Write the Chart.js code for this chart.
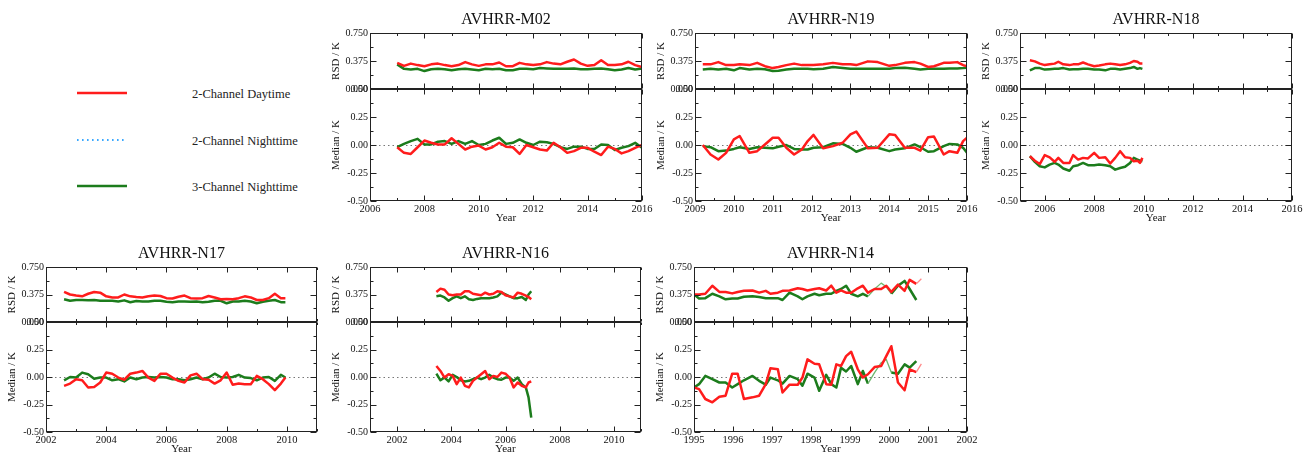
<!DOCTYPE html>
<html>
<head>
<meta charset="utf-8">
<script src="https://cdn.jsdelivr.net/npm/chart.js@4.4.1/dist/chart.umd.min.js"></script>
<style>
  html, body { margin: 0; padding: 0; background: #fff; }
  body { width: 1310px; height: 455px; position: relative; overflow: hidden; font-family: 'Liberation Serif', serif; }
  canvas { position: absolute; }
  .lg { position: absolute; font-size: 12.5px; color: #222; line-height: 1; transform: translateY(-50%); white-space: nowrap; }
</style>
</head>
<body>
<svg id="lgLines" width="330" height="230" style="position:absolute;left:0;top:0"></svg>
<script>
// series (the 2-channel nighttime one only shows in the legend)
const seriesNames  = ['2-Channel Daytime', '2-Channel Nighttime', '3-Channel Nighttime'];
const seriesColors = ['#ff1c1c', '#3aa8ff', '#1c7c1c'];

// tick labels
const rsdTicks = [0, 0.375, 0.75];
const medTicks = [-0.5, -0.25, 0, 0.25, 0.5];

// AVHRR-M02
const m02XTicks = [2006, 2008, 2010, 2012, 2014, 2016];
const m02Years = [2007, 2007.25, 2007.5, 2007.75, 2008, 2008.25, 2008.5, 2008.75, 2009, 2009.25, 2009.5, 2009.75,
  2010, 2010.25, 2010.5, 2010.75, 2011, 2011.25, 2011.5, 2011.75, 2012, 2012.25, 2012.5, 2012.75,
  2013, 2013.25, 2013.5, 2013.75, 2014, 2014.25, 2014.5, 2014.75, 2015, 2015.25, 2015.5, 2015.75, 2016];
const m02RsdDay = [0.35, 0.31, 0.34, 0.32, 0.305, 0.33, 0.34, 0.32, 0.305, 0.32, 0.36, 0.33, 0.31, 0.33, 0.33, 0.355,
  0.305, 0.305, 0.35, 0.33, 0.32, 0.33, 0.36, 0.34, 0.33, 0.365, 0.395, 0.34, 0.31, 0.32, 0.385, 0.32,
  0.32, 0.33, 0.365, 0.32, 0.295];
const m02RsdNight3 = [0.33, 0.27, 0.26, 0.27, 0.24, 0.265, 0.27, 0.265, 0.25, 0.265, 0.27, 0.26, 0.25, 0.27, 0.265, 0.27,
  0.25, 0.25, 0.27, 0.27, 0.265, 0.28, 0.275, 0.27, 0.27, 0.27, 0.275, 0.265, 0.265, 0.27, 0.275, 0.265,
  0.25, 0.26, 0.28, 0.26, 0.275];
const m02MedDay = [-0.02, -0.07, -0.08, -0.02, 0.04, 0.02, 0.005, 0.005, 0.06, 0.01, -0.04, -0.015, -0.005, -0.04, -0.02, 0.02,
  -0.015, -0.02, -0.08, 0, -0.02, -0.04, -0.05, 0.02, -0.02, -0.07, -0.055, -0.025, -0.025, -0.06, -0.09, -0.015,
  -0.035, -0.075, -0.055, -0.025, 0];
const m02MedNight3 = [-0.02, 0.01, 0.035, 0.055, 0.005, 0.005, 0.03, 0.035, 0.01, 0.035, 0.01, 0.035, 0, 0.01, 0.04, 0.065,
  0.01, 0.02, 0.05, 0.02, 0, 0.03, 0.025, 0.01, -0.02, -0.035, -0.015, -0.015, -0.035, -0.035, 0.005, 0,
  -0.045, -0.025, -0.01, 0.02, -0.025];

// AVHRR-N19
const n19XTicks = [2009, 2010, 2011, 2012, 2013, 2014, 2015, 2016];
const n19Years = [2009.2, 2009.4, 2009.6, 2009.8, 2010, 2010.15, 2010.4, 2010.6, 2010.8, 2011, 2011.15, 2011.35,
  2011.55, 2011.75, 2011.9, 2012.05, 2012.3, 2012.55, 2012.8, 2013, 2013.15, 2013.45, 2013.7, 2014,
  2014.15, 2014.4, 2014.65, 2014.8, 2015, 2015.15, 2015.4, 2015.55, 2015.75, 2015.9, 2016];
const n19RsdDay = [0.33, 0.33, 0.36, 0.32, 0.32, 0.33, 0.32, 0.35, 0.305, 0.28, 0.295, 0.32, 0.34, 0.32, 0.32, 0.32,
  0.33, 0.35, 0.33, 0.33, 0.32, 0.37, 0.36, 0.31, 0.32, 0.35, 0.36, 0.34, 0.295, 0.305, 0.35, 0.35, 0.36, 0.32, 0.305];
const n19RsdNight3 = [0.26, 0.27, 0.26, 0.27, 0.25, 0.28, 0.26, 0.27, 0.265, 0.24, 0.245, 0.26, 0.27, 0.27, 0.27, 0.265,
  0.27, 0.295, 0.28, 0.27, 0.27, 0.27, 0.27, 0.27, 0.28, 0.285, 0.27, 0.26, 0.27, 0.27, 0.27, 0.275, 0.275, 0.28, 0.285];
const n19MedDay = [0, -0.085, -0.13, -0.07, 0.05, 0.08, -0.07, -0.055, 0.005, 0.065, 0.065, -0.025, -0.085, -0.04, 0.035, 0.09,
  -0.03, -0.01, 0.02, 0.095, 0.12, -0.03, -0.025, 0.095, 0.09, -0.025, -0.025, -0.05, 0.07, 0.075, -0.085, -0.055, -0.07, 0.035, 0.065];
const n19MedNight3 = [-0.01, -0.02, -0.055, -0.05, -0.035, -0.02, -0.035, -0.02, -0.025, -0.03, -0.015, 0, -0.035, -0.04, -0.04, -0.025,
  -0.02, 0.015, 0.01, -0.025, -0.06, -0.02, -0.025, -0.055, -0.04, -0.03, 0.005, -0.02, -0.06, -0.055, -0.01, 0.01, 0.005, -0.025, -0.07];

// AVHRR-N18
const n18XTicks = [2006, 2008, 2010, 2012, 2014, 2016];
const n18Years = [2005.4, 2005.6, 2005.8, 2006, 2006.2, 2006.4, 2006.55, 2006.75, 2007, 2007.15, 2007.35, 2007.55, 2007.75,
  2008, 2008.2, 2008.45, 2008.65, 2008.85, 2009.05, 2009.25, 2009.45, 2009.6, 2009.75, 2009.85, 2009.95];
const n18RsdDay = [0.385, 0.37, 0.34, 0.32, 0.33, 0.34, 0.365, 0.33, 0.32, 0.33, 0.33, 0.355, 0.33,
  0.305, 0.315, 0.33, 0.34, 0.33, 0.32, 0.33, 0.35, 0.375, 0.365, 0.34, 0.34];
const n18RsdNight3 = [0.25, 0.28, 0.28, 0.26, 0.265, 0.27, 0.27, 0.28, 0.26, 0.265, 0.265, 0.27, 0.27,
  0.26, 0.26, 0.25, 0.27, 0.27, 0.26, 0.27, 0.28, 0.295, 0.27, 0.28, 0.27];
const n18MedDay = [-0.1, -0.14, -0.17, -0.09, -0.11, -0.15, -0.115, -0.16, -0.16, -0.09, -0.13, -0.115, -0.12,
  -0.07, -0.115, -0.11, -0.165, -0.115, -0.055, -0.11, -0.115, -0.145, -0.14, -0.16, -0.115];
const n18MedNight3 = [-0.1, -0.15, -0.19, -0.2, -0.175, -0.16, -0.175, -0.21, -0.23, -0.19, -0.18, -0.16, -0.18,
  -0.18, -0.175, -0.18, -0.19, -0.22, -0.205, -0.195, -0.16, -0.115, -0.13, -0.14, -0.145];

// AVHRR-N17
const n17XTicks = [2002, 2004, 2006, 2008, 2010];
const n17Years = [2002.6, 2002.8, 2003, 2003.2, 2003.4, 2003.6, 2003.8, 2004, 2004.2, 2004.4, 2004.6, 2004.8,
  2005, 2005.2, 2005.4, 2005.6, 2005.8, 2006, 2006.2, 2006.4, 2006.6, 2006.8, 2007, 2007.2, 2007.4, 2007.6, 2007.8,
  2008, 2008.2, 2008.4, 2008.6, 2008.8, 2009, 2009.2, 2009.4, 2009.6, 2009.8, 2009.95];
const n17RsdDay = [0.41, 0.375, 0.36, 0.35, 0.385, 0.41, 0.4, 0.35, 0.335, 0.335, 0.375, 0.35,
  0.34, 0.335, 0.35, 0.36, 0.355, 0.325, 0.32, 0.345, 0.36, 0.325, 0.32, 0.325, 0.355, 0.335, 0.31,
  0.315, 0.31, 0.325, 0.35, 0.335, 0.3, 0.3, 0.325, 0.385, 0.325, 0.325];
const n17RsdNight3 = [0.31, 0.29, 0.3, 0.3, 0.295, 0.3, 0.29, 0.29, 0.29, 0.28, 0.295, 0.27,
  0.285, 0.28, 0.28, 0.29, 0.29, 0.275, 0.27, 0.28, 0.28, 0.275, 0.28, 0.27, 0.275, 0.29, 0.29,
  0.255, 0.28, 0.28, 0.29, 0.28, 0.255, 0.275, 0.29, 0.3, 0.27, 0.27];
const n17MedDay = [-0.08, -0.06, -0.02, -0.03, -0.095, -0.09, -0.05, 0.04, 0.03, -0.005, -0.025, 0.03,
  0.04, 0.055, -0.005, -0.035, 0.03, 0.03, -0.005, -0.035, -0.05, 0.015, 0.03, -0.02, -0.025, -0.06, -0.03,
  0.04, -0.07, -0.06, -0.065, -0.065, 0.01, -0.02, -0.065, -0.12, -0.06, -0.005];
const n17MedNight3 = [-0.03, 0, -0.005, 0.04, 0.025, -0.015, -0.005, -0.005, -0.03, -0.02, -0.04, -0.005,
  -0.02, -0.005, 0, -0.005, 0, -0.005, -0.02, -0.02, -0.03, -0.02, -0.005, -0.02, -0.005, 0.03, 0,
  -0.005, 0, 0.02, -0.005, -0.01, -0.03, -0.005, 0, -0.035, 0.02, -0.005];

// AVHRR-N16
const n16XTicks = [2002, 2004, 2006, 2008, 2010];
const n16Years = [2003.45, 2003.6, 2003.75, 2003.9, 2004.05, 2004.2, 2004.35, 2004.5, 2004.65, 2004.8, 2004.95, 2005.1,
  2005.25, 2005.4, 2005.55, 2005.7, 2005.85, 2006, 2006.15, 2006.3, 2006.45, 2006.6, 2006.75, 2006.85, 2006.95];
const n16RsdDay = [0.41, 0.455, 0.44, 0.375, 0.365, 0.375, 0.375, 0.42, 0.42, 0.385, 0.375, 0.365,
  0.4, 0.375, 0.385, 0.42, 0.41, 0.365, 0.35, 0.335, 0.4, 0.385, 0.36, 0.34, 0.31];
const n16RsdNight3 = [0.35, 0.36, 0.335, 0.29, 0.325, 0.35, 0.325, 0.35, 0.31, 0.3, 0.315, 0.325,
  0.325, 0.325, 0.335, 0.35, 0.4, 0.375, 0.35, 0.325, 0.325, 0.34, 0.3, 0.375, 0.42];
const n16MedDay = [0.1, 0.055, -0.005, 0.025, 0.01, -0.065, -0.005, -0.08, -0.095, -0.035, -0.005, 0.025,
  0.055, -0.02, 0.01, 0, 0.04, 0.03, -0.005, -0.095, -0.05, -0.08, -0.095, -0.05, -0.04];
const n16MedNight3 = [0.03, -0.03, -0.005, -0.04, 0.02, 0, -0.03, -0.04, -0.035, -0.02, -0.005, -0.02,
  -0.005, 0.02, -0.005, -0.02, -0.025, -0.005, -0.005, -0.035, -0.005, -0.065, -0.095, -0.185, -0.37];

// AVHRR-N14
const n14XTicks = [1995, 1996, 1997, 1998, 1999, 2000, 2001, 2002];
const n14Years = [1995, 1995.13, 1995.29, 1995.47, 1995.65, 1995.81, 1995.98, 1996.12, 1996.28, 1996.5, 1996.67, 1996.84,
  1996.96, 1997.15, 1997.27, 1997.45, 1997.66, 1997.78, 1997.91, 1998.09, 1998.21, 1998.39, 1998.52, 1998.65,
  1998.77, 1998.9, 1999.03, 1999.2, 1999.33, 1999.46, 1999.63, 1999.8, 1999.93, 2000.06, 2000.23, 2000.4,
  2000.53, 2000.7, 2000.83];
const n14RsdDay = [0.375, 0.375, 0.385, 0.495, 0.41, 0.41, 0.39, 0.41, 0.425, 0.43, 0.4, 0.425,
  0.385, 0.4, 0.425, 0.43, 0.46, 0.45, 0.43, 0.45, 0.46, 0.43, 0.495, 0.4,
  0.43, 0.4, 0.4, 0.46, 0.495, 0.4, 0.45, 0.45, 0.495, 0.41, 0.51, 0.425,
  0.575, 0.52, 0.59];
const n14RsdNight3 = [0.375, 0.32, 0.325, 0.385, 0.35, 0.31, 0.32, 0.32, 0.345, 0.35, 0.34, 0.325,
  0.325, 0.325, 0.3, 0.4, 0.35, 0.31, 0.35, 0.385, 0.365, 0.385, 0.385, 0.425,
  0.45, 0.495, 0.385, 0.35, 0.385, 0.35, 0.45, 0.53, 0.48, 0.385, 0.495, 0.56,
  0.45, 0.3, null];
const n14MedDay = [-0.095, -0.11, -0.2, -0.23, -0.18, -0.17, 0.03, 0.03, -0.2, -0.185, -0.17, -0.065,
  0.08, 0.07, -0.14, -0.07, -0.07, -0.005, 0.16, 0.12, 0.115, -0.065, -0.07, 0.115,
  0.1, 0.19, 0.23, 0.07, -0.005, 0.025, 0.09, 0.1, 0.19, 0.28, -0.05, -0.12,
  0.07, 0.045, 0.12];
const n14MedNight3 = [-0.095, -0.065, 0.01, -0.02, -0.05, -0.05, -0.095, -0.065, -0.03, 0.01, -0.035, -0.07,
  -0.005, -0.03, -0.06, 0.01, -0.02, -0.08, 0.03, -0.005, -0.125, 0.02, -0.065, -0.095,
  0.085, 0.05, 0.1, -0.065, 0.055, -0.06, 0.04, 0.13, 0.16, 0.04, 0.03, 0.115,
  0.085, 0.145, null];

const fonte = "'Liberation Serif', 'DejaVu Serif', serif";
Chart.defaults.font.family = fonte;
Chart.defaults.color = '#111';

// legend on the left, plain svg + html text
const lgSvg = document.getElementById('lgLines');
const lgY = [93, 140, 186];
seriesNames.forEach(function (nome, i) {
  const ln = document.createElementNS('http://www.w3.org/2000/svg', 'line');
  ln.setAttribute('x1', 77); ln.setAttribute('x2', 127);
  ln.setAttribute('y1', lgY[i]); ln.setAttribute('y2', lgY[i]);
  ln.setAttribute('stroke', seriesColors[i]);
  ln.setAttribute('stroke-width', i === 1 ? 2 : 2.5);
  if (i === 1) ln.setAttribute('stroke-dasharray', '1.6 3.4');
  lgSvg.appendChild(ln);
  const txt = document.createElement('div');
  txt.className = 'lg';
  txt.style.left = '192px';
  txt.style.top = (lgY[i] + 1) + 'px';
  txt.textContent = nome;
  document.body.appendChild(txt);
});

function pontos(anos, valores) {
  return anos.map((a, i) => ({ x: a, y: valores[i] }));
}

function risco(ctx, x1, y1, x2, y2) {
  ctx.beginPath();
  ctx.moveTo(x1, y1);
  ctx.lineTo(x2, y2);
  ctx.stroke();
}

// frame, inward ticks and dotted zero line (IDL look)
const moldura = {
  id: 'moldura',
  beforeDatasetsDraw(chart) {
    const { ctx, chartArea: a } = chart;
    const y0 = Math.round(chart.scales.med.getPixelForValue(0)) + 0.5;
    ctx.save();
    ctx.strokeStyle = '#777';
    ctx.lineWidth = 1;
    ctx.setLineDash([1.5, 3]);
    risco(ctx, a.left, y0, a.right, y0);
    ctx.restore();
  },
  afterDatasetsDraw(chart) {
    const { ctx, chartArea: a, scales } = chart;
    const sx = scales.x;
    const L = Math.round(a.left) + 0.5;
    const R = Math.round(a.right) - 0.5;
    ctx.save();
    ctx.strokeStyle = '#222';
    ctx.lineWidth = 1;
    const xv = sx.ticks.map(t => t.value);
    const xp = xv[1] - xv[0];
    const xMinor = [];
    for (let v = xv[0] - xp / 2; v <= sx.max + 1e-6; v += xp) {
      if (v >= sx.min - 1e-6) xMinor.push(v);
    }
    [scales.rsd, scales.med].forEach(function (s) {
      const T = Math.round(s.top) + 0.5;
      const B = Math.round(s.bottom) - 0.5;
      ctx.strokeRect(L, T, R - L, B - T);
      const yv = s.ticks.map(t => t.value);
      const yp = yv[1] - yv[0];
      yv.forEach(function (v) {
        const py = Math.round(s.getPixelForValue(v)) + 0.5;
        risco(ctx, L, py, L + 6, py);
        risco(ctx, R, py, R - 6, py);
      });
      for (let i = 0; i < yv.length - 1; i++) {
        const py = Math.round(s.getPixelForValue(yv[i] + yp / 2)) + 0.5;
        risco(ctx, L, py, L + 3, py);
        risco(ctx, R, py, R - 3, py);
      }
      xv.forEach(function (v) {
        const px = Math.round(sx.getPixelForValue(v)) + 0.5;
        risco(ctx, px, B, px, B - 5);
        risco(ctx, px, T, px, T + 5);
      });
      xMinor.forEach(function (v) {
        const px = Math.round(sx.getPixelForValue(v)) + 0.5;
        risco(ctx, px, B, px, B - 2.5);
        risco(ctx, px, T, px, T + 2.5);
      });
    });
    ctx.restore();
  }
};

// thin light segments (N14 end of record)
function segFino(faixa, corFina) {
  if (!faixa) return {};
  const dentro = c => c.p0.parsed.x >= faixa[0] - 1e-6 && c.p1.parsed.x <= faixa[1] + 1e-6;
  return {
    borderColor: c => dentro(c) ? corFina : undefined,
    borderWidth: c => dentro(c) ? 1.3 : undefined
  };
}

const YW = 44;  // y axis block width
const RP = 14;  // room on the right for last year label
const XH = 24;  // x axis block height
const TOPO = 33;

function linha(label, anos, vals, eixo, cor, seg) {
  return {
    label: label,
    data: pontos(anos, vals),
    yAxisID: eixo,
    borderColor: cor,
    borderWidth: 2.5,
    borderJoinStyle: 'round',
    pointRadius: 0,
    tension: 0,
    fill: false,
    segment: seg || {}
  };
}

function painel(p) {
  const cv = document.createElement('canvas');
  const largura = YW + p.boxW + RP;
  const altura = TOPO + p.areaH + XH;
  cv.width = largura;
  cv.height = altura;
  cv.style.left = (p.boxL - YW) + 'px';
  cv.style.top = p.top + 'px';
  cv.style.width = largura + 'px';
  cv.style.height = altura + 'px';
  document.body.appendChild(cv);

  const eixoY = function (ticksArr, casas, titulo, peso, min, max) {
    return {
      type: 'linear',
      position: 'left',
      stack: 'painel',
      stackWeight: peso,
      min: min,
      max: max,
      afterFit: s => { s.width = YW; },
      afterBuildTicks: s => { s.ticks = ticksArr.map(v => ({ value: v })); },
      grid: { display: false, drawTicks: false },
      border: { display: false },
      ticks: { font: { size: 10 }, padding: 2, callback: v => Number(v).toFixed(casas) },
      title: { display: true, text: titulo, font: { size: 11 }, padding: { top: 4, bottom: 0 } }
    };
  };

  new Chart(cv, {
    type: 'line',
    data: {
      datasets: [
        linha(seriesNames[0], p.anos, p.rsdDia, 'rsd', seriesColors[0], segFino(p.finoDia, '#ff8a8a')),
        linha(seriesNames[2], p.anos, p.rsdNoite, 'rsd', seriesColors[2], segFino(p.finoNoite, '#6fb86f')),
        linha(seriesNames[0], p.anos, p.medDia, 'med', seriesColors[0], segFino(p.finoDia, '#ff8a8a')),
        linha(seriesNames[2], p.anos, p.medNoite, 'med', seriesColors[2], segFino(p.finoNoite, '#6fb86f'))
      ]
    },
    options: {
      responsive: false,
      animation: false,
      devicePixelRatio: 1,
      layout: { padding: { left: 0, right: RP, top: 0, bottom: 0 } },
      plugins: {
        legend: { display: false },
        tooltip: { enabled: false },
        title: {
          display: true,
          text: p.titulo,
          fullSize: false,
          color: '#111',
          font: { size: 16, weight: 'normal' },
          padding: { top: 10.4, bottom: 3.4 }
        }
      },
      scales: {
        x: {
          type: 'linear',
          min: p.xMin,
          max: p.xMax,
          afterFit: s => { s.height = XH; },
          afterBuildTicks: s => { s.ticks = p.xTicks.map(v => ({ value: v })); },
          grid: { display: false, drawTicks: false },
          border: { display: false },
          ticks: { autoSkip: false, maxRotation: 0, padding: 2, font: { size: 10.5 }, callback: v => String(v) },
          title: { display: true, text: 'Year', font: { size: 11 }, padding: 0 }
        },
        med: eixoY(medTicks, 2, 'Median / K', 2, -0.5, 0.5),
        rsd: eixoY(rsdTicks, 3, 'RSD / K', 1, 0, 0.75)
      }
    },
    plugins: [moldura]
  });
}

painel({ titulo: 'AVHRR-M02', anos: m02Years, rsdDia: m02RsdDay, rsdNoite: m02RsdNight3, medDia: m02MedDay, medNoite: m02MedNight3,
  xMin: 2006, xMax: 2016, xTicks: m02XTicks, boxL: 370, boxW: 272, top: 0, areaH: 168 });
painel({ titulo: 'AVHRR-N19', anos: n19Years, rsdDia: n19RsdDay, rsdNoite: n19RsdNight3, medDia: n19MedDay, medNoite: n19MedNight3,
  xMin: 2009, xMax: 2016, xTicks: n19XTicks, boxL: 695, boxW: 272, top: 0, areaH: 168 });
painel({ titulo: 'AVHRR-N18', anos: n18Years, rsdDia: n18RsdDay, rsdNoite: n18RsdNight3, medDia: n18MedDay, medNoite: n18MedNight3,
  xMin: 2005, xMax: 2016, xTicks: n18XTicks, boxL: 1020, boxW: 272, top: 0, areaH: 168 });
painel({ titulo: 'AVHRR-N17', anos: n17Years, rsdDia: n17RsdDay, rsdNoite: n17RsdNight3, medDia: n17MedDay, medNoite: n17MedNight3,
  xMin: 2002, xMax: 2011, xTicks: n17XTicks, boxL: 46, boxW: 271, top: 234, areaH: 165 });
painel({ titulo: 'AVHRR-N16', anos: n16Years, rsdDia: n16RsdDay, rsdNoite: n16RsdNight3, medDia: n16MedDay, medNoite: n16MedNight3,
  xMin: 2001, xMax: 2011, xTicks: n16XTicks, boxL: 370, boxW: 271, top: 234, areaH: 165 });
painel({ titulo: 'AVHRR-N14', anos: n14Years, rsdDia: n14RsdDay, rsdNoite: n14RsdNight3, medDia: n14MedDay, medNoite: n14MedNight3,
  xMin: 1995, xMax: 2002, xTicks: n14XTicks, boxL: 694, boxW: 273, top: 234, areaH: 165,
  finoDia: [2000.69, 2001], finoNoite: [1999.45, 2000.07] });
</script>
</body>
</html>
